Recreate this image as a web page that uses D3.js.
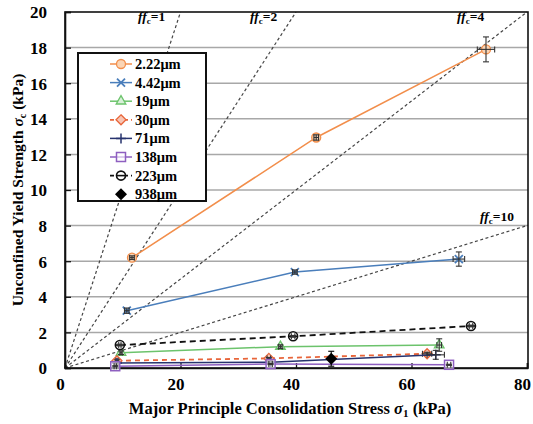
<!DOCTYPE html>
<html><head><meta charset="utf-8">
<script src="https://cdn.jsdelivr.net/npm/d3@7"></script>
<style>
body{margin:0;background:#fff;}
svg text{font-family:"Liberation Serif","Times New Roman","DejaVu Serif",serif !important;font-weight:bold;fill:#000;}
</style></head>
<body><svg id="chart" width="533" height="424" style="font-family:'Liberation Serif',serif"></svg>
<script>
// ---- data ----
const xTicks = [0, 20, 40, 60, 80];
const yTicks = [0, 2, 4, 6, 8, 10, 12, 14, 16, 18, 20];
const ffcValues = [1, 2, 4, 10];
const seriesNames = ["2.22μm", "4.42μm", "19μm", "30μm", "71μm", "138μm", "223μm", "938μm"];

const sigma1_222 = [11.6, 43.5, 72.9];
const sigmac_222 = [6.2, 12.95, 17.9];
const errX_222 = [0.4, 0.4, 1.5];
const errY_222 = [0.1, 0.15, 0.7];

const sigma1_442 = [10.7, 39.8, 68.2];
const sigmac_442 = [3.22, 5.39, 6.12];
const errX_442 = [0.4, 0.4, 1.0];
const errY_442 = [0.15, 0.12, 0.4];

const sigma1_19 = [9.7, 37.3, 64.8];
const sigmac_19 = [0.86, 1.2, 1.29];
const errX_19 = [0.2, 0.3, 0.4];
const errY_19 = [0.1, 0.1, 0.35];

const sigma1_30 = [9.0, 35.3, 62.7];
const sigmac_30 = [0.41, 0.54, 0.8];
const errX_30 = [0.2, 0.3, 0.8];
const errY_30 = [0.05, 0.05, 0.08];

const sigma1_71 = [9.0, 35.6, 64.2];
const sigmac_71 = [0.28, 0.33, 0.74];
const errX_71 = [0.2, 0.3, 1.5];
const errY_71 = [0.05, 0.05, 0.25];

const sigma1_138 = [8.7, 35.6, 66.5];
const sigmac_138 = [0.1, 0.22, 0.18];
const errX_138 = [0.2, 0.3, 0.3];
const errY_138 = [0.03, 0.03, 0.03];

const sigma1_223 = [9.5, 39.5, 70.3];
const sigmac_223 = [1.29, 1.78, 2.36];
const errX_223 = [0.2, 0.3, 0.3];
const errY_223 = [0.05, 0.05, 0.05];

const sigma1_938 = [46.1];
const sigmac_938 = [0.52];
const errX_938 = [0.3];
const errY_938 = [0.42];

// ---- styles ----
const FONT = "'Liberation Serif','Times New Roman','DejaVu Serif',serif";
const styles = [
  {color:"#f28e4b", fill:"#fbd5b5", marker:"circle", dash:null, line:true},
  {color:"#4a7ebb", fill:"none", marker:"x", dash:null, line:true},
  {color:"#6cc36c", fill:"#d9f0d9", marker:"triangle", dash:null, line:true},
  {color:"#e8653a", fill:"#f7c6b5", marker:"diamond", dash:"5,4", line:true},
  {color:"#27336e", fill:"none", marker:"plus", dash:null, line:true},
  {color:"#8e5fc0", fill:"none", marker:"square", dash:null, line:true},
  {color:"#111111", fill:"none", marker:"theta", dash:"6,4", line:true},
  {color:"#000000", fill:"#000", marker:"filldiamond", dash:null, line:false}
];
const xs = [sigma1_222, sigma1_442, sigma1_19, sigma1_30, sigma1_71, sigma1_138, sigma1_223, sigma1_938];
const ys = [sigmac_222, sigmac_442, sigmac_19, sigmac_30, sigmac_71, sigmac_138, sigmac_223, sigmac_938];
const exs = [errX_222, errX_442, errX_19, errX_30, errX_71, errX_138, errX_223, errX_938];
const eys = [errY_222, errY_442, errY_19, errY_30, errY_71, errY_138, errY_223, errY_938];
const series = seriesNames.map((n, i) => ({
  name: n, style: styles[i],
  pts: xs[i].map((v, j) => ({x: v, y: ys[i][j], ex: exs[i][j], ey: eys[i][j]}))
}));

// ---- layout ----
const L = 65, R = 527, T = 12, B = 368, frameR = 528;
const svg = d3.select("#chart");
const x = d3.scaleLinear().domain([0, 80]).range([L, R]);
const y = d3.scaleLinear().domain([0, 20]).range([B, T]);

// gridlines
svg.append("g").selectAll("line").data(yTicks.filter(t => t > 0 && t < 20)).join("line")
  .attr("x1", L).attr("x2", frameR).attr("y1", d => y(d)).attr("y2", d => y(d))
  .attr("stroke", "#a8a8a8").attr("stroke-width", 1.5);

// ffc lines
const xFrameMax = x.invert(frameR);
const ffcG = svg.append("g");
ffcValues.forEach(f => {
  let x2 = Math.min(20 * f, xFrameMax);
  ffcG.append("line")
    .attr("x1", x(0)).attr("y1", y(0)).attr("x2", x(x2)).attr("y2", y(x2 / f))
    .attr("stroke", "#444").attr("stroke-width", 1.2).attr("stroke-dasharray", "3,2.5");
});

// frame
svg.append("rect").attr("x", L).attr("y", T).attr("width", frameR - L).attr("height", B - T)
  .attr("fill", "none").attr("stroke", "#111").attr("stroke-width", 1.6);

// axes (inner ticks)
const yAxis = d3.axisLeft(y).tickValues(yTicks).tickSize(-6).tickPadding(18).tickFormat(d3.format("d"));
const gy = svg.append("g").attr("transform", `translate(${L},0)`).call(yAxis).attr("font-family", FONT);
gy.select(".domain").attr("stroke", "#111").attr("stroke-width", 1.6);
gy.selectAll(".tick line").attr("stroke", "#111").attr("stroke-width", 1.3);
gy.selectAll("text").style("font-size", "17px").style("font-family", FONT).attr("dy", "0.35em");

const xAxis = d3.axisBottom(x).tickValues(xTicks).tickSize(-5).tickPadding(10).tickFormat(d3.format("d"));
const gx = svg.append("g").attr("transform", `translate(0,${B})`).call(xAxis).attr("font-family", FONT);
gx.select(".domain").attr("stroke", "#111").attr("stroke-width", 1.6);
gx.selectAll(".tick line").attr("stroke", "#111").attr("stroke-width", 1.3);
gx.selectAll("text").style("font-size", "17px").style("font-family", FONT).attr("dx", -5);

// ffc labels
const ffcLabelPos = [[138, 21], [250, 21], [457, 21], [480, 221]];
ffcValues.forEach((f, i) => {
  const t = svg.append("text").attr("x", ffcLabelPos[i][0]).attr("y", ffcLabelPos[i][1])
    .style("font-size", "13.5px").style("font-family", FONT);
  t.append("tspan").text("ff").style("font-style", "italic");
  t.append("tspan").text("c").attr("dy", 3).style("font-size", "9px");
  t.append("tspan").text("=" + f).attr("dy", -3);
});

// markers
function markerPath(sel, m, c, fill) {
  if (m === "circle") sel.append("circle").attr("r", 4.5).attr("fill", fill).attr("stroke", c).attr("stroke-width", 1.3);
  else if (m === "x") sel.append("path").attr("d", "M-4,-4L4,4M-4,4L4,-4").attr("stroke", c).attr("stroke-width", 1.8).attr("fill", "none");
  else if (m === "triangle") sel.append("path").attr("d", d3.symbol(d3.symbolTriangle, 40)()).attr("fill", fill).attr("stroke", c).attr("stroke-width", 1.3);
  else if (m === "diamond") sel.append("path").attr("d", "M0,-5L5,0L0,5L-5,0Z").attr("fill", fill).attr("stroke", c).attr("stroke-width", 1.3);
  else if (m === "plus") sel.append("path").attr("d", "M-5,0H5M0,-5V5").attr("stroke", c).attr("stroke-width", 1.5);
  else if (m === "square") sel.append("rect").attr("x", -4.5).attr("y", -4.5).attr("width", 9).attr("height", 9).attr("fill", "#fff").attr("fill-opacity", 0.6).attr("stroke", c).attr("stroke-width", 1.5);
  else if (m === "theta") { sel.append("circle").attr("r", 4.5).attr("fill", "#fff").attr("stroke", c).attr("stroke-width", 1.6);
    sel.append("line").attr("x1", -4.5).attr("x2", 4.5).attr("stroke", c).attr("stroke-width", 1.6); }
  else if (m === "filldiamond") sel.append("path").attr("d", "M0,-6L6,0L0,6L-6,0Z").attr("fill", c);
}

const line = d3.line().x(d => x(d.x)).y(d => y(d.y));
const dataG = svg.append("g");
series.forEach(s => {
  const st = s.style;
  if (st.line) dataG.append("path").datum(s.pts).attr("d", line).attr("fill", "none")
    .attr("stroke", st.color).attr("stroke-width", st.dash ? 1.8 : 1.5)
    .attr("stroke-dasharray", st.dash);
  s.pts.forEach(p => {
    const g = dataG.append("g").attr("transform", `translate(${x(p.x)},${y(p.y)})`);
    markerPath(g, st.marker, st.color, st.fill);
    const eb = dataG.append("g").attr("stroke", st.marker === "filldiamond" ? "#000" : "#333").attr("stroke-width", 1.1);
    const y1 = y(p.y + p.ey), y0 = y(p.y - p.ey), x1 = x(p.x + p.ex), x0 = x(p.x - p.ex);
    eb.append("line").attr("x1", x(p.x)).attr("x2", x(p.x)).attr("y1", y1).attr("y2", y0);
    eb.append("line").attr("x1", x(p.x) - 3).attr("x2", x(p.x) + 3).attr("y1", y1).attr("y2", y1);
    eb.append("line").attr("x1", x(p.x) - 3).attr("x2", x(p.x) + 3).attr("y1", y0).attr("y2", y0);
    eb.append("line").attr("x1", x0).attr("x2", x1).attr("y1", y(p.y)).attr("y2", y(p.y));
    eb.append("line").attr("x1", x0).attr("x2", x0).attr("y1", y(p.y) - 3).attr("y2", y(p.y) + 3);
    eb.append("line").attr("x1", x1).attr("x2", x1).attr("y1", y(p.y) - 3).attr("y2", y(p.y) + 3);
  });
});

// legend
const lg = svg.append("g");
lg.append("rect").attr("x", 78).attr("y", 53).attr("width", 128).attr("height", 148)
  .attr("fill", "#fff").attr("stroke", "#111").attr("stroke-width", 2);
series.forEach((s, i) => {
  const cy = 64 + i * 18.6;
  const st = s.style;
  if (st.line) lg.append("line").attr("x1", 110).attr("x2", 132).attr("y1", cy).attr("y2", cy)
    .attr("stroke", st.color).attr("stroke-width", st.dash ? 1.8 : 1.5).attr("stroke-dasharray", st.dash ? "4,3" : null);
  const g = lg.append("g").attr("transform", `translate(121,${cy})`);
  markerPath(g, st.marker, st.color, st.fill === "none" ? "#fff" : st.fill);
  lg.append("text").attr("x", 135).attr("y", cy).attr("dy", "0.35em")
    .style("font-size", "14.5px").style("font-family", FONT).text(s.name);
});

// axis titles
const xt = svg.append("text").attr("x", 290).attr("y", 414).attr("text-anchor", "middle")
  .style("font-size", "16.5px").style("font-family", FONT);
xt.append("tspan").text("Major Principle Consolidation Stress ");
xt.append("tspan").text("σ").style("font-style", "italic");
xt.append("tspan").text("1").attr("dy", 3).style("font-size", "11px");
xt.append("tspan").text(" (kPa)").attr("dy", -3);

const yt = svg.append("text").attr("transform", "translate(23,190) rotate(-90)").attr("text-anchor", "middle")
  .style("font-size", "15.5px").style("font-family", FONT);
yt.append("tspan").text("Unconfined Yield Strength ");
yt.append("tspan").text("σ").style("font-style", "italic");
yt.append("tspan").text("c").attr("dy", 3).style("font-size", "10px");
yt.append("tspan").text(" (kPa)").attr("dy", -3);
</script></body></html>
